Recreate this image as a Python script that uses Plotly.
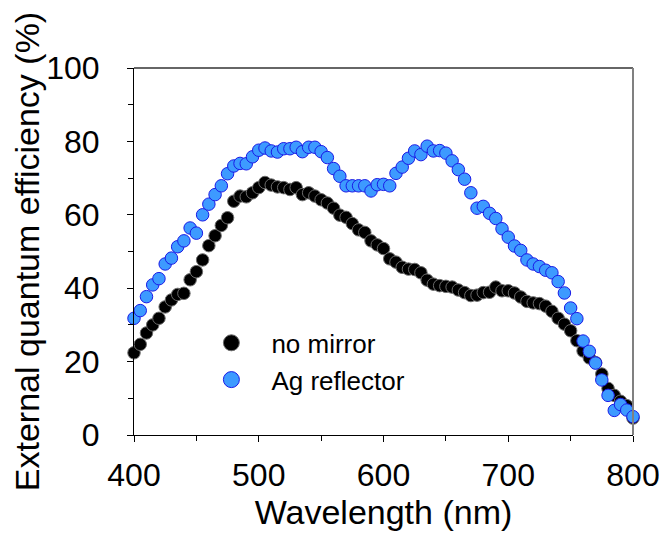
import plotly.graph_objects as go

wavelength = list(range(400, 805, 5))

no_mirror = [22.4, 24.7, 27.8, 30.0, 31.8, 34.9, 36.8, 38.3, 38.6, 42.3,
             44.5, 47.7, 51.6, 54.3, 57.1, 59.2, 63.7, 65.1, 64.9, 66.0,
             67.4, 68.8, 68.1, 67.6, 67.4, 66.9, 67.4, 65.5, 66.0, 65.1,
             64.1, 63.2, 61.8, 59.9, 59.3, 57.6, 55.9, 55.2, 52.9, 51.8,
             50.8, 48.0, 47.1, 45.7, 45.2, 45.1, 44.2, 42.2, 41.1, 40.7,
             40.5, 40.3, 39.5, 38.8, 38.0, 38.1, 38.8, 38.9, 40.3, 39.3,
             39.3, 38.7, 37.6, 36.4, 36.0, 35.8, 35.1, 33.7, 31.8, 30.2,
             28.4, 25.7, 22.9, 21.0, 19.7, 16.6, 12.7, 10.8, 9.2, 8.0,
             4.6]

ag_reflector = [31.8, 33.9, 37.7, 40.9, 42.6, 46.6, 48.2, 51.3, 52.9, 56.4,
                55.0, 60.0, 62.9, 65.5, 67.9, 71.2, 73.3, 74.0, 73.9, 75.8,
                77.6, 78.2, 77.4, 77.1, 78.0, 78.0, 78.4, 77.2, 78.4, 78.4,
                77.2, 75.6, 72.6, 70.5, 67.9, 67.9, 67.9, 67.9, 66.5, 68.2,
                68.3, 67.9, 71.3, 73.0, 75.4, 77.4, 76.4, 78.7, 77.4, 77.5,
                76.8, 74.7, 72.3, 69.7, 66.0, 61.8, 62.3, 60.4, 59.0, 56.2,
                53.9, 51.5, 50.3, 47.7, 46.6, 45.9, 44.9, 44.2, 41.8, 38.7,
                34.6, 31.7, 25.6, 22.8, 19.6, 15.0, 10.8, 6.7, 8.3, 6.8,
                5.0]

series_names = ["no mirror", "Ag reflector"]
x_ticks = [400, 500, 600, 700, 800]
y_ticks = [0, 20, 40, 60, 80, 100]

FONT = "Liberation Sans, Arial, sans-serif"
styles = [
    dict(color="#000000", line=dict(color="#6b6b6b", width=1)),
    dict(color="#3d9aff", line=dict(color="#1a1ae6", width=1)),
]

fig = go.Figure()
for name, vals, st in zip(series_names, [no_mirror, ag_reflector], styles):
    fig.add_trace(go.Scatter(
        x=wavelength, y=vals, mode="markers", name=name, showlegend=False,
        cliponaxis=False, marker=dict(size=12.5, **st),
    ))
# legend entries (larger symbols, as in the original legend)
for name, st in zip(series_names, styles):
    fig.add_trace(go.Scatter(
        x=[None], y=[None], mode="markers", name=name, showlegend=True,
        marker=dict(size=22, **st),
    ))

fig.update_layout(
    width=659, height=524,
    margin=dict(l=126, r=34, t=60, b=97),
    paper_bgcolor="white", plot_bgcolor="white",
    font=dict(family=FONT, color="black"),
    showlegend=True,
    legend=dict(x=0.115, y=0.315, xanchor="left", yanchor="top",
                bgcolor="rgba(0,0,0,0)", font=dict(size=26, family=FONT),
                itemwidth=70, tracegroupgap=0, itemsizing="trace"),
    xaxis=dict(
        range=[400, 800], tickvals=x_ticks, ticktext=[str(v) for v in x_ticks],
        ticks="outside", ticklen=6, tickcolor="black", tickwidth=1,
        minor=dict(dtick=50, tick0=400, ticks="outside", ticklen=5, tickcolor="black"),
        showline=True, linecolor="black", linewidth=1,
        showgrid=False, zeroline=False,
        tickfont=dict(size=32, family=FONT), ticklabelstandoff=6,
        ticklabeloverflow="allow",
        title=dict(text="Wavelength (nm)", font=dict(size=34, family=FONT), standoff=6),
        automargin=False,
    ),
    yaxis=dict(
        range=[0, 100], tickvals=y_ticks, ticktext=[str(v) for v in y_ticks],
        ticks="outside", ticklen=6, tickcolor="black", tickwidth=1,
        minor=dict(dtick=10, tick0=0, ticks="outside", ticklen=5, tickcolor="black"),
        showline=True, linecolor="black", linewidth=1,
        showgrid=False, zeroline=False,
        tickfont=dict(size=32, family=FONT), ticklabelstandoff=21,
        ticklabeloverflow="allow",
        title=dict(text="External quantum efficiency (%)", font=dict(size=34, family=FONT), standoff=2),
        automargin=False,
    ),
)

# top and right frame lines
fig.add_shape(type="line", xref="paper", yref="paper", x0=0, x1=1, y0=1, y1=1,
              line=dict(color="#333333", width=1.5))
fig.add_shape(type="line", xref="paper", yref="paper", x0=1, x1=1, y0=0, y1=1,
              line=dict(color="#808080", width=2))

fig.write_html("out.html")
